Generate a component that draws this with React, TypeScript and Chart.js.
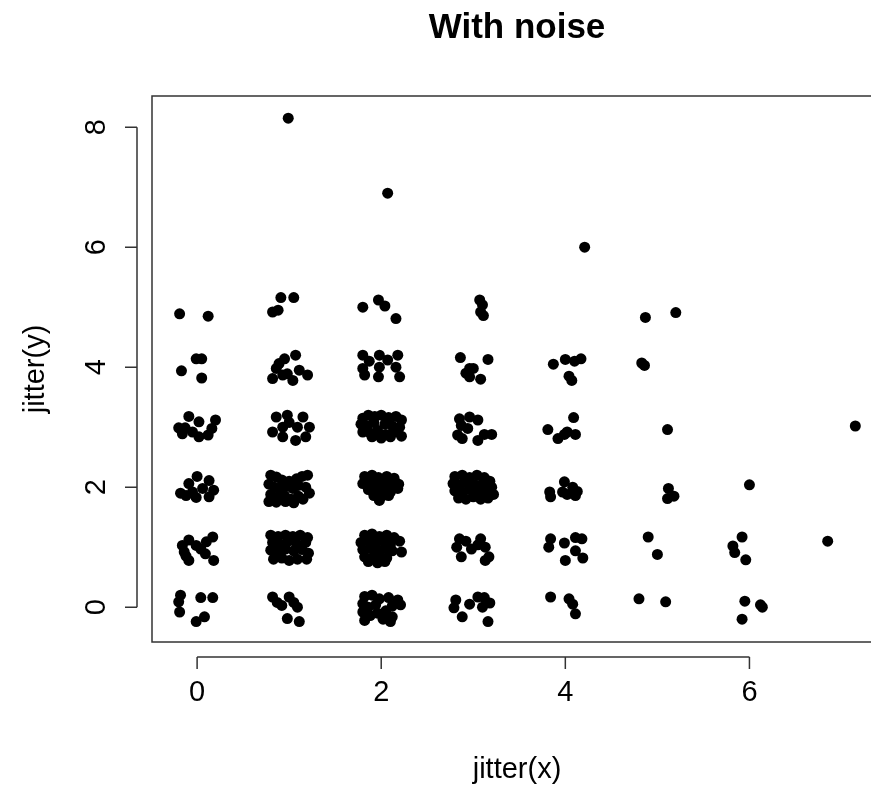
import React, { useEffect, useRef } from "react";
import { Chart, registerables } from "chart.js";

Chart.register(...registerables);

// Jittered points grouped by their underlying x value
const group0: number[][] = [
  [-0.19, 4.89], [0.12, 4.85], [-0.01, 4.14], [0.05, 4.14], [-0.17, 3.94], [0.05, 3.82],
  [-0.09, 3.18], [0.02, 3.09], [0.2, 3.12], [-0.2, 2.99], [-0.16, 2.89], [-0.05, 2.92],
  [0.02, 2.84], [0.12, 2.87], [0.16, 2.98], [-0.13, 2.99],
  [0.0, 2.18], [0.13, 2.11], [-0.09, 2.06], [-0.18, 1.9], [-0.05, 1.92], [0.06, 1.98],
  [0.18, 1.95], [0.13, 1.84], [-0.01, 1.83], [-0.12, 1.86],
  [0.17, 1.17], [0.1, 1.09], [-0.09, 1.12], [-0.16, 1.03], [-0.01, 1.03], [-0.14, 0.92],
  [-0.09, 0.78], [0.09, 0.89], [0.18, 0.78], [0.04, 0.97], [-0.12, 0.85],
  [-0.18, 0.2], [-0.2, 0.09], [-0.19, -0.08], [0.04, 0.16], [0.17, 0.16], [-0.01, -0.24], [0.08, -0.16],
];

const group1: number[][] = [
  [0.99, 8.15],
  [0.91, 5.16], [1.05, 5.16], [0.82, 4.92], [0.88, 4.95],
  [1.07, 4.2], [0.95, 4.14], [0.89, 4.06], [0.86, 3.98], [0.82, 3.81], [0.93, 3.87],
  [1.04, 3.78], [1.11, 3.95], [1.2, 3.87], [0.98, 3.89],
  [0.86, 3.17], [0.98, 3.2], [1.15, 3.17], [0.82, 2.92], [0.93, 3.0], [1.09, 3.0],
  [1.22, 3.0], [0.93, 2.84], [1.07, 2.78], [1.18, 2.84], [1.0, 3.08],
  [0.8, 2.2], [0.86, 2.17], [0.92, 2.12], [1.0, 2.1], [1.08, 2.14], [1.14, 2.18], [1.2, 2.2],
  [0.78, 2.05], [0.84, 2.0], [0.9, 1.97], [0.97, 2.02], [1.04, 1.98], [1.1, 2.03], [1.18, 2.0],
  [0.8, 1.88], [0.88, 1.84], [0.95, 1.86], [1.02, 1.8], [1.1, 1.85], [1.22, 1.9],
  [0.78, 1.76], [0.86, 1.75], [0.96, 1.76], [1.05, 1.74], [1.15, 1.8],
  [0.8, 1.2], [0.88, 1.18], [0.96, 1.2], [1.04, 1.18], [1.12, 1.2], [1.2, 1.16],
  [0.82, 1.08], [0.9, 1.05], [0.99, 1.1], [1.08, 1.06], [1.18, 1.08],
  [0.8, 0.95], [0.87, 0.92], [0.96, 0.97], [1.05, 0.94], [1.14, 0.96], [1.21, 0.9],
  [0.83, 0.8], [0.92, 0.82], [1.0, 0.78], [1.09, 0.8], [1.19, 0.8],
  [0.82, 0.17], [0.87, 0.08], [0.92, 0.03], [0.98, -0.19], [1.0, 0.17], [1.05, 0.08],
  [1.09, 0.0], [1.11, -0.24],
];

const group2: number[][] = [
  [2.07, 6.9],
  [1.8, 5.0], [1.97, 5.12], [2.04, 5.02], [2.16, 4.81],
  [1.8, 4.2], [1.8, 3.98], [1.82, 3.87], [1.98, 4.2], [1.98, 4.0], [1.97, 3.84],
  [2.07, 4.12], [2.18, 4.2], [2.16, 4.0], [2.2, 3.84], [1.87, 4.1],
  [1.8, 3.15], [1.86, 3.2], [1.93, 3.18], [2.0, 3.2], [2.08, 3.16], [2.16, 3.18], [2.22, 3.12],
  [1.78, 3.05], [1.85, 3.02], [1.92, 3.08], [2.04, 3.05], [2.12, 3.02], [2.2, 3.0],
  [1.8, 2.92], [1.88, 2.9], [1.96, 2.95], [2.05, 2.88], [2.14, 2.92], [2.22, 2.85],
  [1.9, 2.84], [2.0, 2.82], [2.1, 2.84],
  [1.82, 2.18], [1.9, 2.2], [1.97, 2.16], [2.06, 2.18], [2.14, 2.15],
  [1.8, 2.06], [1.88, 2.08], [1.95, 2.04], [2.03, 2.06], [2.1, 2.02], [2.19, 2.05],
  [1.86, 1.96], [1.94, 1.94], [2.02, 1.96], [2.1, 1.92], [2.18, 1.98],
  [1.92, 1.86], [2.0, 1.84], [2.08, 1.86], [1.98, 1.78],
  [1.82, 1.2], [1.9, 1.22], [1.98, 1.18], [2.06, 1.2], [2.14, 1.16], [2.2, 1.1],
  [1.78, 1.08], [1.86, 1.1], [1.94, 1.06], [2.02, 1.1], [2.1, 1.04],
  [1.8, 0.96], [1.88, 0.98], [1.96, 0.94], [2.04, 0.98], [2.12, 0.94], [2.22, 0.92],
  [1.82, 0.84], [1.9, 0.82], [1.98, 0.86], [2.06, 0.82], [1.86, 0.76], [1.96, 0.74], [2.04, 0.76],
  [1.82, 0.18], [1.9, 0.2], [1.98, 0.14], [2.08, 0.16], [2.18, 0.12], [2.21, 0.04],
  [1.8, 0.06], [1.86, 0.0], [1.94, 0.04], [2.12, 0.02], [1.8, -0.08], [1.88, -0.14],
  [1.96, -0.1], [2.05, -0.06], [2.12, -0.16], [1.82, -0.22], [2.02, -0.2], [2.1, -0.24],
];

const group3: number[][] = [
  [3.07, 5.12], [3.1, 5.04], [3.08, 4.92], [3.11, 4.86],
  [2.86, 4.16], [3.16, 4.13], [2.96, 3.98], [2.92, 3.9], [3.0, 3.98], [3.08, 3.8], [2.96, 3.84],
  [2.85, 3.14], [2.96, 3.17], [3.05, 3.12], [2.87, 3.03], [2.83, 2.87], [2.88, 2.81],
  [3.05, 2.78], [3.12, 2.88], [3.2, 2.88], [2.94, 2.98],
  [2.8, 2.18], [2.88, 2.2], [2.96, 2.16], [3.04, 2.2], [3.12, 2.16], [3.18, 2.1],
  [2.78, 2.06], [2.86, 2.04], [2.94, 2.08], [3.02, 2.04], [3.1, 2.06], [3.2, 2.0],
  [2.8, 1.94], [2.88, 1.92], [2.96, 1.96], [3.04, 1.92], [3.12, 1.94], [3.22, 1.88],
  [2.84, 1.82], [2.92, 1.8], [3.0, 1.84], [3.08, 1.8], [3.16, 1.82],
  [2.85, 1.14], [2.82, 1.0], [2.87, 0.84], [2.98, 0.97], [3.08, 1.14], [3.13, 1.0],
  [3.17, 0.84], [3.13, 0.78], [2.92, 1.1], [3.05, 1.04],
  [2.81, 0.12], [2.79, -0.01], [2.88, -0.16], [2.96, 0.05], [3.05, 0.17], [3.12, 0.16],
  [3.18, 0.07], [3.1, 0.0], [3.16, -0.24],
];

const group4: number[][] = [
  [4.21, 6.0],
  [3.87, 4.05], [4.0, 4.13], [4.1, 4.1], [4.17, 4.14], [4.04, 3.85], [4.07, 3.78],
  [4.09, 3.16], [3.81, 2.96], [3.92, 2.81], [3.99, 2.88], [4.02, 2.92], [4.11, 2.88],
  [3.83, 1.92], [3.84, 1.84], [3.99, 2.09], [3.97, 1.92], [4.02, 1.88], [4.08, 2.0],
  [4.13, 1.93], [4.11, 1.86],
  [3.84, 1.14], [3.82, 1.0], [3.99, 1.07], [4.11, 1.16], [4.18, 1.14], [4.11, 0.94],
  [4.19, 0.82], [4.0, 0.78],
  [3.84, 0.17], [4.04, 0.14], [4.08, 0.05], [4.11, -0.11],
];

const group5: number[][] = [
  [4.87, 4.83], [5.2, 4.91], [4.83, 4.07], [4.86, 4.03], [5.11, 2.96],
  [5.12, 1.98], [5.11, 1.81], [5.18, 1.85], [4.9, 1.17], [5.0, 0.88],
  [4.8, 0.14], [5.09, 0.09],
];

const group6: number[][] = [
  [6.0, 2.04], [5.92, 1.17], [5.82, 1.02], [5.84, 0.91], [5.96, 0.79],
  [5.95, 0.1], [6.12, 0.04], [6.14, 0.0], [5.92, -0.2],
];

const group7: number[][] = [
  [7.15, 3.02], [6.85, 1.1],
];

const xTicks = [0, 2, 4, 6];
const yTicks = [0, 2, 4, 6, 8];
const titleText = "With noise";
const xLabel = "jitter(x)";
const yLabel = "jitter(y)";

const FONT = '"Liberation Sans", Arial, Helvetica, sans-serif';

const decorPlugin = {
  id: "rDecor",
  afterDraw(chart: any) {
    const { ctx, chartArea, scales } = chart;
    const xs = scales.x;
    const ys = scales.y;
    ctx.save();
    ctx.strokeStyle = "#333";
    ctx.lineWidth = 1.5;
    // plot box
    ctx.strokeRect(chartArea.left, chartArea.top, chartArea.right - chartArea.left, chartArea.bottom - chartArea.top);

    // x axis
    const axY = chartArea.bottom + 15;
    ctx.beginPath();
    ctx.moveTo(xs.getPixelForValue(xTicks[0]), axY);
    ctx.lineTo(xs.getPixelForValue(xTicks[xTicks.length - 1]), axY);
    xTicks.forEach((t) => {
      const p = xs.getPixelForValue(t);
      ctx.moveTo(p, axY);
      ctx.lineTo(p, axY + 12);
    });
    ctx.stroke();
    ctx.fillStyle = "#000";
    ctx.font = `29px ${FONT}`;
    ctx.textAlign = "center";
    ctx.textBaseline = "middle";
    xTicks.forEach((t) => {
      ctx.fillText(String(t), xs.getPixelForValue(t), 693);
    });

    // y axis
    const axX = chartArea.left - 15;
    ctx.beginPath();
    ctx.moveTo(axX, ys.getPixelForValue(yTicks[0]));
    ctx.lineTo(axX, ys.getPixelForValue(yTicks[yTicks.length - 1]));
    yTicks.forEach((t) => {
      const p = ys.getPixelForValue(t);
      ctx.moveTo(axX, p);
      ctx.lineTo(axX - 12, p);
    });
    ctx.stroke();
    yTicks.forEach((t) => {
      ctx.save();
      ctx.translate(97, ys.getPixelForValue(t));
      ctx.rotate(-Math.PI / 2);
      ctx.fillText(String(t), 0, 0);
      ctx.restore();
    });

    const cx = (chartArea.left + chartArea.right) / 2;
    // axis titles
    ctx.fillText(xLabel, cx, 770);
    ctx.save();
    ctx.translate(36, (chartArea.top + chartArea.bottom) / 2);
    ctx.rotate(-Math.PI / 2);
    ctx.fillText(yLabel, 0, 0);
    ctx.restore();

    // main title
    ctx.font = `bold 35px ${FONT}`;
    ctx.fillText(titleText, cx, 28);
    ctx.restore();
  },
};

export default function App() {
  const canvasRef = useRef<HTMLCanvasElement | null>(null);

  useEffect(() => {
    const canvas = canvasRef.current;
    if (!canvas) return;
    const toPts = (g: number[][]) => g.map(([x, y]) => ({ x, y }));
    const all = [
      ...toPts(group0), ...toPts(group1), ...toPts(group2), ...toPts(group3),
      ...toPts(group4), ...toPts(group5), ...toPts(group6), ...toPts(group7),
    ];
    const chart = new Chart(canvas, {
      type: "scatter",
      data: {
        datasets: [
          {
            data: all,
            backgroundColor: "#000",
            borderColor: "#000",
            borderWidth: 0,
            pointRadius: 5.5,
            pointHoverRadius: 5.5,
          },
        ],
      },
      options: {
        responsive: false,
        animation: false,
        events: [],
        layout: { padding: { left: 152, top: 96, right: 18, bottom: 143 } },
        plugins: { legend: { display: false }, tooltip: { enabled: false }, title: { display: false } },
        scales: {
          x: { type: "linear", min: -0.49, max: 7.44, display: false },
          y: { type: "linear", min: -0.58, max: 8.52, display: false },
        },
      },
      plugins: [decorPlugin],
    });
    return () => chart.destroy();
  }, []);

  return (
    <div style={{ position: "fixed", left: 0, top: 0, width: 871, height: 785, overflow: "hidden", background: "#fff" }}>
      <canvas ref={canvasRef} width={900} height={785} />
    </div>
  );
}
